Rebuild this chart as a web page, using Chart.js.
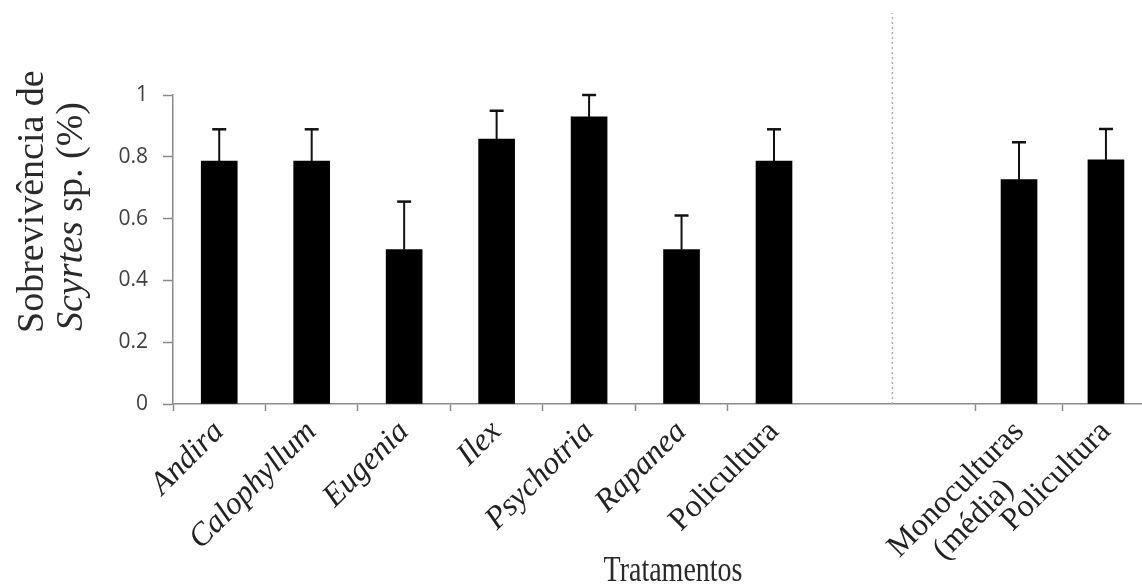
<!DOCTYPE html>
<html>
<head>
<meta charset="utf-8">
<script src="https://cdn.jsdelivr.net/npm/chart.js@4.4.1/dist/chart.umd.min.js"></script>
<style>
  html, body { margin: 0; padding: 0; background: #fff; }
  #wrap { width: 1142px; height: 588px; }
</style>
</head>
<body>
<div id="wrap"><canvas id="grafico"></canvas></div>
<script>
// a segunda linha leva espaços no fim para ficar centrada sob a primeira (o rótulo girado é alinhado à direita)
const tratamentos = ['Andira', 'Calophyllum', 'Eugenia', 'Ilex', 'Psychotria', 'Rapanea', 'Policultura', ['Monoculturas', '(média)\u00a0\u00a0\u00a0\u00a0\u00a0\u00a0'], 'Policultura'];
const italico = [true, true, true, true, true, true, false, false, false];
const sobrevivencia = [0.786, 0.786, 0.5, 0.857, 0.929, 0.5, 0.786, 0.726, 0.79];
const erroPadrao = [0.103, 0.103, 0.155, 0.092, 0.071, 0.11, 0.103, 0.121, 0.1];
const yTicks = [0, 0.2, 0.4, 0.6, 0.8, 1];

// posição de cada tratamento no eixo x (dois painéis lado a lado)
const posicoes = [1, 2, 3, 4, 5, 6, 7, 9.65, 10.59];
const marcasX = [0.5, 1.5, 2.5, 3.5, 4.5, 5.5, 6.5, 9.18, 10.12];
const divisoria = 8.28;
const topoDivisoria = 1.265;

const cinza = '#8a8a8a';
const serif = '"Liberation Serif", "Times New Roman", serif';

// barras de erro, linha pontilhada e títulos
const extras = {
  id: 'extras',
  afterDatasetsDraw(chart) {
    const { ctx, scales: { x, y } } = chart;
    ctx.save();

    // linha pontilhada separando os painéis
    ctx.strokeStyle = '#b0b0b0';
    ctx.lineWidth = 1.5;
    ctx.setLineDash([2, 3]);
    ctx.beginPath();
    ctx.moveTo(x.getPixelForValue(divisoria), y.getPixelForValue(0));
    ctx.lineTo(x.getPixelForValue(divisoria), y.getPixelForValue(topoDivisoria));
    ctx.stroke();
    ctx.setLineDash([]);

    // erro padrão (só a parte de cima aparece)
    ctx.strokeStyle = '#111';
    posicoes.forEach((p, i) => {
      const px = x.getPixelForValue(p);
      const yBar = y.getPixelForValue(sobrevivencia[i]);
      const yTop = y.getPixelForValue(sobrevivencia[i] + erroPadrao[i]);
      ctx.lineWidth = 2;
      ctx.beginPath();
      ctx.moveTo(px, yBar);
      ctx.lineTo(px, yTop);
      ctx.stroke();
      ctx.lineWidth = 2.5;
      ctx.beginPath();
      ctx.moveTo(px - 7, yTop);
      ctx.lineTo(px + 7, yTop);
      ctx.stroke();
    });

    // título do eixo y, com o gênero em itálico
    ctx.fillStyle = '#2a2a2a';
    ctx.textBaseline = 'alphabetic';
    ctx.textAlign = 'left';
    ctx.save();
    ctx.translate(43, 333);
    ctx.rotate(-Math.PI / 2);
    ctx.font = `38px ${serif}`;
    ctx.fillText('Sobrevivência de', 0, 0);
    ctx.restore();

    ctx.save();
    ctx.translate(82, 331);
    ctx.rotate(-Math.PI / 2);
    ctx.font = `italic 38px ${serif}`;
    ctx.fillText('Scyrtes', 0, 0);
    const w = ctx.measureText('Scyrtes').width;
    ctx.font = `38px ${serif}`;
    ctx.fillText(' sp. (%)', w, 0);
    ctx.restore();

    // título do eixo x (um pouco esticado na vertical, como no original)
    ctx.save();
    ctx.translate(673, 581);
    ctx.scale(1, 1.3);
    ctx.font = `28px ${serif}`;
    ctx.textAlign = 'center';
    ctx.fillText('Tratamentos', 0, 0);
    ctx.restore();

    ctx.restore();
  }
};

new Chart(document.getElementById('grafico'), {
  type: 'bar',
  data: {
    datasets: [{
      data: posicoes.map((p, i) => ({ x: p, y: sobrevivencia[i] })),
      backgroundColor: '#000',
      barThickness: 36
    }]
  },
  options: {
    responsive: true,
    maintainAspectRatio: false,
    animation: false,
    layout: { padding: { top: 95, left: 0, right: 0, bottom: 0 } },
    plugins: {
      legend: { display: false },
      tooltip: { enabled: false }
    },
    scales: {
      x: {
        type: 'linear',
        min: 0.5,
        max: 10.98,
        offset: false,
        afterBuildTicks: (s) => {
          s.ticks = [...marcasX, ...posicoes].sort((a, b) => a - b).map(v => ({ value: v }));
        },
        afterFit: (s) => { s.height = 184; },
        border: { color: cinza, width: 1.5 },
        grid: {
          offset: false,
          drawOnChartArea: false,
          tickLength: 7,
          tickWidth: 1.5,
          tickColor: (c) => (c.tick && marcasX.includes(c.tick.value)) ? cinza : 'rgba(0,0,0,0)'
        },
        ticks: {
          autoSkip: false,
          minRotation: 45,
          maxRotation: 45,
          padding: 4,
          color: '#222',
          font: (c) => {
            const i = c.tick ? posicoes.indexOf(c.tick.value) : -1;
            return { family: serif, size: 32, style: italico[i] ? 'italic' : 'normal', lineHeight: 1.05 };
          },
          callback: (v) => {
            const i = posicoes.indexOf(v);
            return i < 0 ? '' : tratamentos[i];
          }
        }
      },
      y: {
        min: 0,
        max: 1,
        afterBuildTicks: (s) => { s.ticks = yTicks.map(v => ({ value: v })); },
        afterFit: (s) => { s.width = 173; },
        border: { color: cinza, width: 1.5 },
        grid: { drawOnChartArea: false, tickLength: 10, tickWidth: 1.5, tickColor: cinza },
        ticks: {
          padding: 15,
          color: '#404040',
          font: { family: '"Open Sans", sans-serif', size: 21 },
          callback: (v) => String(v)
        }
      }
    }
  },
  plugins: [extras]
});
</script>
</body>
</html>
